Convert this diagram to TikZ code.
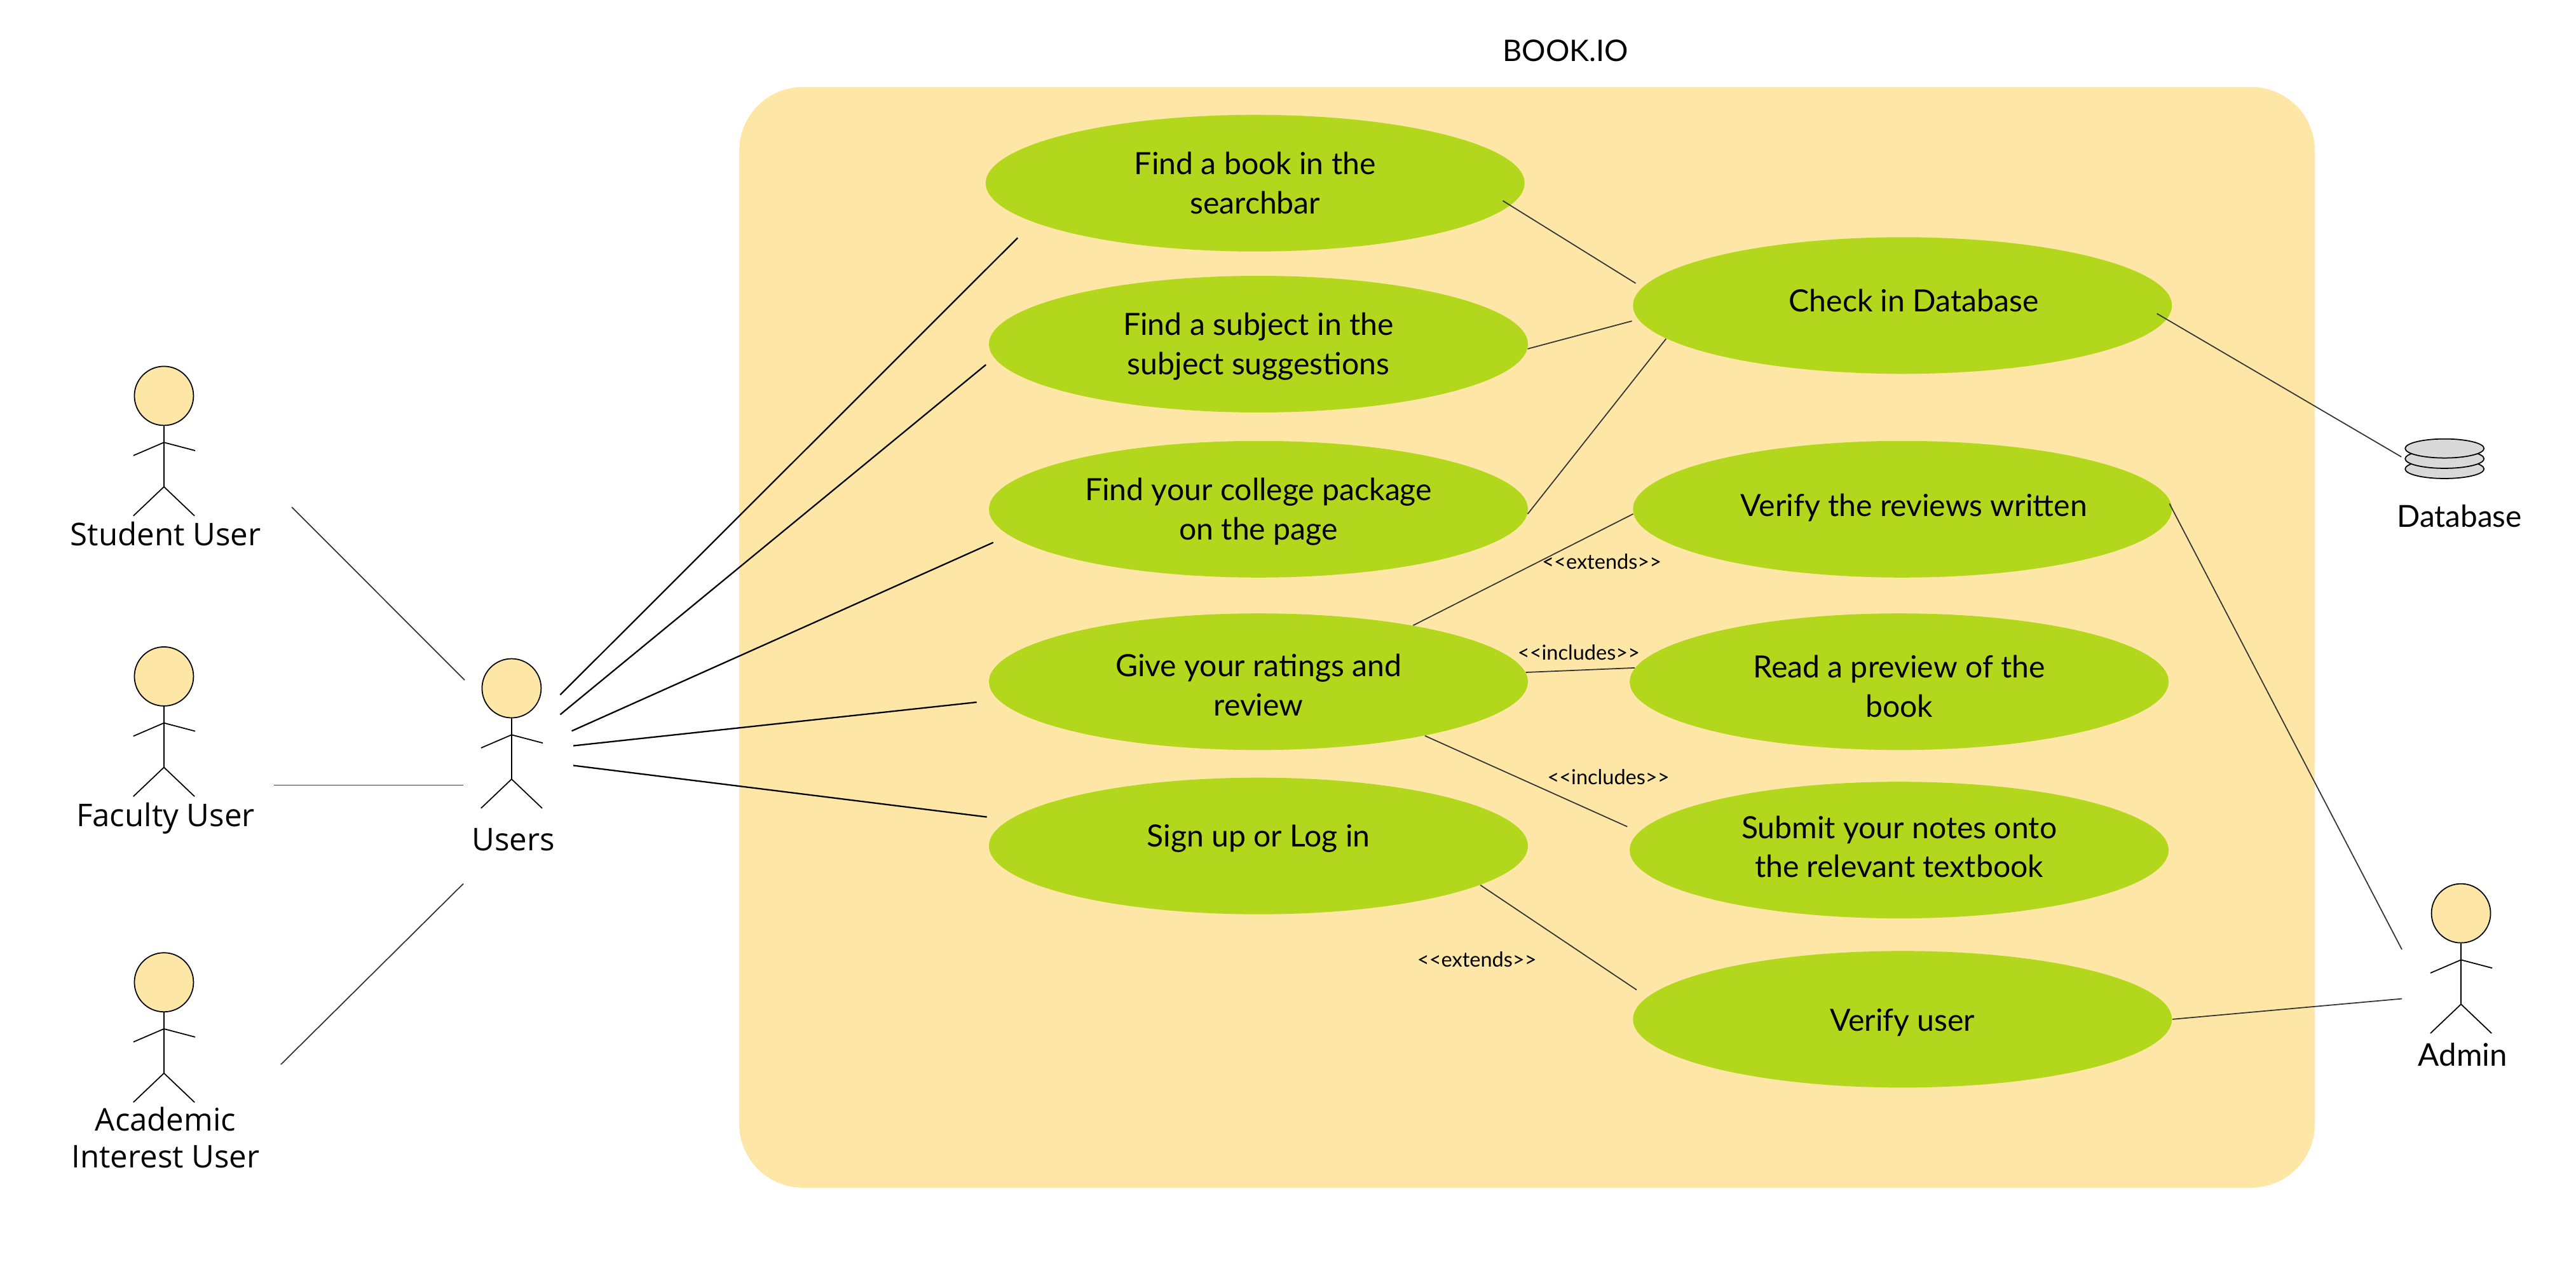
\documentclass[tikz,border=0pt]{standalone}
\usepackage{fontspec}
\setmainfont{Lato}
\newfontfamily\actorfont{Open Sans}
\usetikzlibrary{shapes.geometric}
\definecolor{sysfill}{HTML}{FEE6A6}
\definecolor{casefill}{HTML}{B3D71C}
\definecolor{diskfill}{HTML}{D9D9D9}
\tikzset{
	usecase/.style={ellipse, fill=casefill, minimum width=84.8mm, minimum height=21.5mm, inner sep=0pt, align=center, font=\fontsize{13.7}{17.6}\selectfont},
	head/.style={circle, draw=black, fill=sysfill, line width=0.5pt, minimum size=9.3mm, inner sep=0pt},
	limb/.style={draw=black, line width=0.5pt},
	who/.style={align=center, font=\actorfont\fontsize{14}{16.4}\selectfont},
	link/.style={draw=black!80, line width=0.5pt},
	userlink/.style={draw=black, line width=0.65pt},
	stereo/.style={font=\fontsize{9.25}{11}\selectfont, inner sep=0pt},
	disk/.style={ellipse, draw=black, fill=diskfill, line width=0.5pt, minimum width=12.4mm, minimum height=3mm, inner sep=0pt}
}
% stick figure: name, head position, label, label offset
\newcommand{\actorfig}[4]{
	\node [head] (#1) at (#2) {};
	\draw [limb] (#1.south) -- ++(0,37) coordinate (#1 hip)
		(#1 hip) -- ++(-18.6,17.7) (#1 hip) -- ++(18.6,17.7)
		(#1.south) ++(0,10) coordinate (#1 arm) -- ++(-18.6,8) (#1 arm) -- ++(19,5);
	\node [who] (#1 label) at ([shift={(1,#4)}]#1.center) {#3};
}
% use case text moved up or down, the node keeps its size
\newcommand{\oneline}[2]{\raisebox{#1}[\height][\depth]{#2}}
\newcommand{\twolines}[3]{\raisebox{#1}[\height][\depth]{\begin{tabular}{@{}c@{}}#2\\#3\end{tabular}}}
\begin{document}
\begin{tikzpicture}[x=0.2585mm, y=-0.2585mm]
	\useasboundingbox (0,0) rectangle (1568,773.7);

	% system box
	\node [rectangle, fill=sysfill, rounded corners=10mm, minimum width=247.9mm, minimum height=173.2mm, inner sep=0pt] (box) at (929.5,388) {};
	\node (title) at (953,31) {\fontsize{13.3}{16}\selectfont BOOK.IO};

	% use cases
	\node [usecase] (e1) at (764,111.5) {Find a book in the\\searchbar};
	\node [usecase] (e2) at (766,209.5) {\twolines{-0.5mm}{Find a subject in the}{subject suggestions}};
	\node [usecase] (e3) at (766,310) {\twolines{-0.5mm}{Find your college package}{on the page}};
	\node [usecase] (e4) at (766,415) {\twolines{-1mm}{Give your ratings and}{review}};
	\node [usecase] (e5) at (766,515) {\oneline{1.15mm}{Sign up or Log in}};
	\node [usecase] (r1) at (1158,186) {\oneline{0.8mm}{\hspace{3.6mm}Check in Database}};
	\node [usecase] (r2) at (1158,310) {\oneline{0.25mm}{\hspace{3.6mm}Verify the reviews written}};
	\node [usecase] (r3) at (1156,415) {\twolines{-1.2mm}{Read a preview of the}{book}};
	\node [usecase] (r4) at (1156,517.5) {\twolines{0mm}{Submit your notes onto}{the relevant textbook}};
	\node [usecase] (r5) at (1158,620.5) {\oneline{-0.5mm}{Verify user}};

	% actors
	\actorfig{student}{99.8,241}{Student User}{84}
	\actorfig{faculty}{99.8,411.8}{Faculty User}{86.5}
	\actorfig{users}{311.4,419}{Users}{92}
	\actorfig{academic}{99.8,598}{Academic\\Interest User}{94.5}
	\actorfig{admin}{1498,556}{\rmfamily Admin}{86}

	% database
	\node [disk] (db3) at (1488,285.5) {};
	\node [disk] (db2) at (1488,279.3) {};
	\node [disk] (db1) at (1488,273) {};
	\node (dblabel) at (1497,314) {\fontsize{13.6}{16}\selectfont Database};

	% free ends beside the actors
	\coordinate (student out) at (177.6,308.7);
	\coordinate (users in1) at (282.8,414);
	\coordinate (faculty out) at (166.7,478);
	\coordinate (users in2) at (282,478);
	\coordinate (academic out) at (171,648);
	\coordinate (users in3) at (282,538);
	\coordinate (users o1) at (341,423);
	\coordinate (users o2) at (341,435);
	\coordinate (users o3) at (348,445);
	\coordinate (users o4) at (349,454);
	\coordinate (users o5) at (349,466);
	\coordinate (admin in1) at (1462,578);
	\coordinate (admin in2) at (1462,608);

	% connectors
	\draw [link] (student out) -- (users in1);
	\draw [link] (faculty out) -- (users in2);
	\draw [link] (academic out) -- (users in3);
	\draw [userlink, shorten >=3.47mm] (users o1) -- (e1.190.2);
	\draw [userlink, shorten >=1.66mm] (users o2) -- (e2.183.4);
	\draw [userlink, shorten >=2.7mm] (users o3) -- (e3.186.9);
	\draw [userlink, shorten >=3.4mm] (users o4) -- (e4.184.7);
	\draw [userlink, shorten >=3.5mm] (users o5) -- (e5.174.3);
	\draw [link, shorten <=-1.4mm, shorten >=1.2mm] (e1.-5) -- (r1.176.5);
	\draw [link, shorten >=1mm] (e2.-1) -- (r1.183.1);
	\draw [link] (e3.-1.4) -- (r1.188);
	\draw [link, shorten <=-1.8mm, shorten >=0.6mm] (r1.-3.4) -- (db2.west);
	\draw [link] (e4.20) -- (r2.181.7);
	\draw [link] (e4.2.4) -- (r3.177.2);
	\draw [link, shorten >=2mm] (e4.-18.8) -- (r4.176.3);
	\draw [link, shorten >=2mm] (e5.-10.7) -- (r5.175.6);
	\draw [link, shorten <=-1mm] (r2.0.7) -- (admin in1);
	\draw [link] (r5.0.9) -- (admin in2);

	% stereotypes
	\node [stereo] (ext1) at (975,342) {<{}<extends>{}>};
	\node [stereo] (inc1) at (961,397) {<{}<includes>{}>};
	\node [stereo] (inc2) at (979,473) {<{}<includes>{}>};
	\node [stereo] (ext2) at (899,584) {<{}<extends>{}>};
\end{tikzpicture}
\end{document}
